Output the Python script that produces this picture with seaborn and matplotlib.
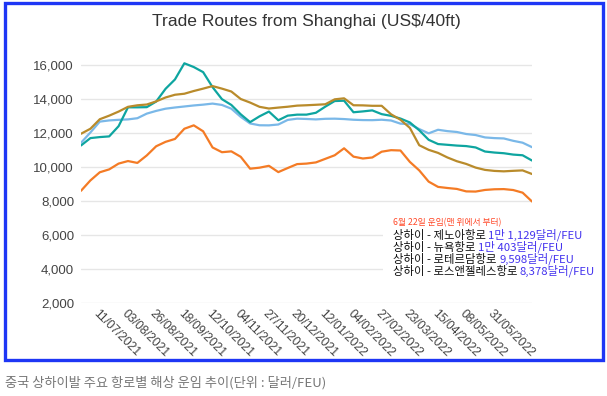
import numpy as np
import pandas as pd
import seaborn as sns
import matplotlib
matplotlib.use("Agg")
import matplotlib.pyplot as plt
from matplotlib.patches import Rectangle

# ---------------- data ----------------
date_labels = ["11/07/2021", "03/08/2021", "26/08/2021", "18/09/2021", "12/10/2021",
               "04/11/2021", "27/11/2021", "20/12/2021", "12/01/2022", "04/02/2022",
               "27/02/2022", "23/03/2022", "15/04/2022", "08/05/2022", "31/05/2022"]

genoa = [11423, 12030, 12670, 12740, 12775, 12800, 12870, 13140, 13300, 13430,
         13500, 13560, 13620, 13668, 13730, 13650, 13430, 12950, 12560, 12455,
         12449, 12500, 12770, 12843, 12825, 12800, 12835, 12843, 12820, 12780,
         12760, 12755, 12780, 12735, 12550, 12520, 12230, 11980, 12190, 12110,
         12060, 11940, 11880, 11740, 11700, 11680, 11540, 11430, 11166]

new_york = [11265, 11700, 11760, 11800, 12400, 13510, 13510, 13520, 13850, 14600,
            15150, 16100, 15880, 15580, 14700, 13990, 13650, 13100, 12640, 12980,
            13260, 12750, 13020, 13080, 13080, 13190, 13550, 13880, 13900, 13220,
            13270, 13330, 13110, 13010, 12850, 12620, 12160, 11600, 11350, 11305,
            11260, 11230, 11150, 10910, 10850, 10810, 10730, 10690, 10380]

rotterdam = [11955, 12250, 12810, 13020, 13260, 13540, 13630, 13675, 13860, 14090,
             14250, 14310, 14470, 14610, 14760, 14610, 14440, 14000, 13790, 13540,
             13440, 13495, 13545, 13610, 13632, 13660, 13690, 13980, 14040, 13632,
             13625, 13600, 13600, 13100, 12780, 12300, 11280, 11010, 10830, 10560,
             10340, 10180, 9965, 9830, 9770, 9745, 9775, 9800, 9588]

los_angeles = [8600, 9210, 9690, 9860, 10200, 10350, 10240, 10680, 11220, 11480,
               11650, 12250, 12450, 12100, 11150, 10870, 10920, 10600, 9900, 9960,
               10070, 9700, 9940, 10170, 10200, 10270, 10480, 10690, 11100, 10610,
               10500, 10560, 10900, 10990, 10970, 10300, 9800, 9140, 8830, 8765,
               8710, 8565, 8555, 8650, 8690, 8700, 8645, 8490, 7970]

routes = ["Genoa", "New York", "Rotterdam", "Los Angeles"]
series = [genoa, new_york, rotterdam, los_angeles]
colors = ["#7ab8e8", "#0ea5a0", "#b98b2b", "#f47b25"]

y_ticks = [2000, 4000, 6000, 8000, 10000, 12000, 14000, 16000]

title = "Trade Routes from Shanghai (US$/40ft)"
note_header = "6월 22일 운임(맨 위에서 부터)"
note_routes = ["상하이 - 제노아항로 ", "상하이 - 뉴욕항로 ", "상하이 - 로테르담항로 ", "상하이 - 로스앤젤레스항로 "]
note_values = ["1만 1,129달러/FEU", "1만 403달러/FEU", "9,598달러/FEU", "8,378달러/FEU"]
caption = "중국 상하이발 주요 항로별 해상 운임 추이(단위 : 달러/FEU)"

rows = []
for name, vals in zip(routes, series):
    for i, v in enumerate(vals):
        rows.append({"idx": i, "route": name, "rate": v})
df = pd.DataFrame(rows)

# ---------------- figure ----------------
sns.set_style("white")
plt.rcParams["font.family"] = ["Liberation Sans", "DejaVu Sans"]
KFONT = ["Noto Sans CJK KR", "DejaVu Sans"]

W, H = 607, 396
fig = plt.figure(figsize=(W / 100, H / 100), dpi=100)
fig.patch.set_facecolor("white")
ax = fig.add_axes([81 / W, 1 - 303 / H, 451 / W, (303 - 56.5) / H])

sns.lineplot(data=df, x="idx", y="rate", hue="route", hue_order=routes,
             palette=dict(zip(routes, colors)), linewidth=1.6, legend=False, ax=ax)

n = len(genoa)
ax.set_xlim(0, n - 1)
ax.set_ylim(2000, 16500)
ax.set_yticks(y_ticks)
ax.set_yticklabels([f"{t:,}" for t in y_ticks], fontsize=9.5, color="#444444")
ax.set_xticks(list(range(2, 2 + 3 * len(date_labels), 3)))
ax.set_xticklabels(date_labels, rotation=-45, ha="left", va="top",
                   rotation_mode="anchor", fontsize=8.8, color="#444444")
ax.tick_params(axis="both", length=0)
ax.tick_params(axis="y", pad=5)
ax.tick_params(axis="x", pad=3)
ax.set_xlabel("")
ax.set_ylabel("")
ax.grid(axis="y", color="#e6e6e6", linewidth=1.0)
ax.grid(axis="x", visible=False)
ax.set_axisbelow(True)
for s in ax.spines.values():
    s.set_visible(False)

# title
fig.text(306.5 / W, 1 - 21.5 / H, title, ha="center", va="center",
         fontsize=12.6, color="#333333")

# annotation box (white background)
ax.add_patch(Rectangle((383 / W, 1 - 282 / H), (600 - 383) / W, (282 - 213) / H,
                       transform=fig.transFigure, facecolor="white",
                       edgecolor="none", clip_on=False, zorder=3))
fig.text(393 / W, 1 - 223 / H, note_header, ha="left", va="center",
         fontsize=6.3, color="#ff4a2a", family=KFONT, zorder=4)
ys = [235, 247, 259, 271]
for y, r, v in zip(ys, note_routes, note_values):
    t = fig.text(393 / W, 1 - y / H, r, ha="left", va="center", fontsize=8.2,
                 color="#111111", family=KFONT, fontweight="medium", zorder=4)
    ax.annotate(v, xy=(1, 0.5), xycoords=t, ha="left", va="center",
                fontsize=8.2, color="#4433ee", family=KFONT, fontweight="medium",
                zorder=4, annotation_clip=False)

# blue frame
fig.patches.append(Rectangle((4.5 / W, 1 - 359.5 / H), (602.5 - 4.5) / W, (359.5 - 3) / H,
                             transform=fig.transFigure, fill=False,
                             edgecolor="#1e36f5", linewidth=2.4))

# caption
fig.text(5 / W, 1 - 383 / H, caption, ha="left", va="center", fontsize=9.5,
         color="#777777", family=KFONT)

fig.savefig("out.png", dpi=100, facecolor="white")
